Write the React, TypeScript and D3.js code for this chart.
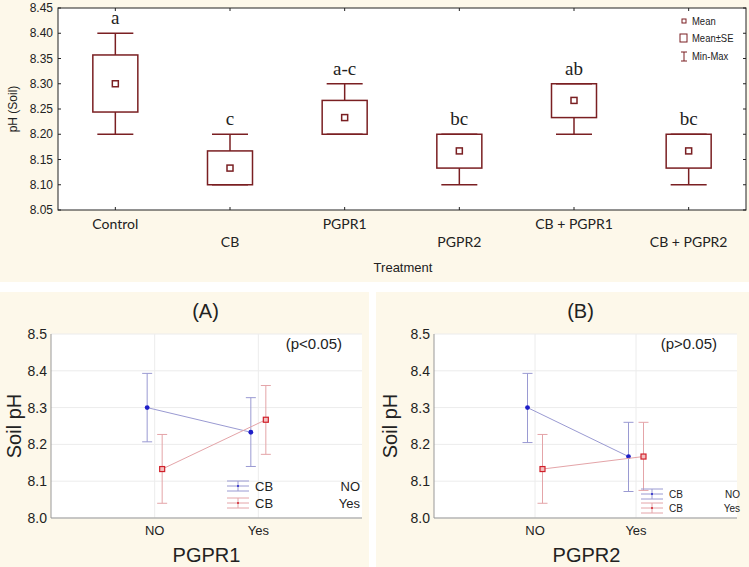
import React from "react";
import * as d3 from "d3";

// ---- Top chart data ----
const treatments = ["Control", "CB", "PGPR1", "PGPR2", "CB + PGPR1", "CB + PGPR2"];
const means = [8.3, 8.133, 8.233, 8.167, 8.267, 8.167];
const seLow = [8.244, 8.1, 8.2, 8.133, 8.233, 8.133];
const seHigh = [8.357, 8.167, 8.267, 8.2, 8.3, 8.2];
const mins = [8.2, 8.1, 8.2, 8.1, 8.2, 8.1];
const maxs = [8.4, 8.2, 8.3, 8.2, 8.3, 8.2];
const letters = ["a", "c", "a-c", "bc", "ab", "bc"];
const topTicks = [8.05, 8.1, 8.15, 8.2, 8.25, 8.3, 8.35, 8.4, 8.45];

// ---- Interaction plots data ----
const levels = ["NO", "Yes"];
const bottomTicks = [8.0, 8.1, 8.2, 8.3, 8.4, 8.5];
const aNoMean = [8.3, 8.233];
const aNoLo = [8.207, 8.14];
const aNoHi = [8.393, 8.327];
const aYesMean = [8.133, 8.267];
const aYesLo = [8.04, 8.173];
const aYesHi = [8.227, 8.36];
const bNoMean = [8.3, 8.167];
const bNoLo = [8.205, 8.072];
const bNoHi = [8.393, 8.26];
const bYesMean = [8.133, 8.167];
const bYesLo = [8.04, 8.075];
const bYesHi = [8.227, 8.26];

const BOX = "#7a1f22";
const CREAM = "#fdf8ea";
const SANS = "'Liberation Sans', Arial, sans-serif";
const HUMAN = "Lato, 'Open Sans', sans-serif";
const SERIF = "'Liberation Serif', 'Times New Roman', serif";

function Narrow({ x, y, anchor, size, children }: { x: number; y: number; anchor?: string; size: number; children: React.ReactNode }) {
  return (
    <g transform={`translate(${x},${y}) scale(0.86,1)`}>
      <text x={0} y={0} textAnchor={anchor || "start"} fontFamily={SANS} fontSize={size} fill="#222">
        {children}
      </text>
    </g>
  );
}

function TopChart() {
  const L = 58, R = 746, T = 8, B = 210;
  const x = d3.scaleBand<string>().domain(treatments).range([L, R]);
  const y = d3.scaleLinear().domain([8.05, 8.45]).range([B, T]);
  const bw = 45, cw = 36, mk = 6;
  return (
    <g>
      <rect x={0} y={0} width={749} height={282} fill={CREAM} />
      <rect x={L} y={T} width={R - L} height={B - T} fill="#ffffff" stroke="#222" strokeWidth={1} />
      {topTicks.map((t) => (
        <g key={t}>
          <line x1={L} x2={L + 3} y1={y(t)} y2={y(t)} stroke="#222" />
          <line x1={R - 3} x2={R} y1={y(t)} y2={y(t)} stroke="#222" />
          <text x={L - 5} y={y(t) + 4} textAnchor="end" fontFamily={SANS} fontSize={12} fill="#222">
            {t.toFixed(2)}
          </text>
        </g>
      ))}
      {treatments.map((c, i) => {
        const cx = (x(c) as number) + x.bandwidth() / 2;
        return (
          <g key={c}>
            <line x1={cx} x2={cx} y1={B} y2={B - 3} stroke="#222" />
            <line x1={cx} x2={cx} y1={T} y2={T + 3} stroke="#222" />
            <text x={cx} y={i % 2 === 0 ? 229 : 247} textAnchor="middle" fontFamily={HUMAN} fontSize={14} fill="#222">
              {c}
            </text>
            <line x1={cx} x2={cx} y1={y(maxs[i])} y2={y(seHigh[i])} stroke={BOX} strokeWidth={1.5} />
            <line x1={cx} x2={cx} y1={y(seLow[i])} y2={y(mins[i])} stroke={BOX} strokeWidth={1.5} />
            <line x1={cx - cw / 2} x2={cx + cw / 2} y1={y(maxs[i])} y2={y(maxs[i])} stroke={BOX} strokeWidth={1.5} />
            <line x1={cx - cw / 2} x2={cx + cw / 2} y1={y(mins[i])} y2={y(mins[i])} stroke={BOX} strokeWidth={1.5} />
            <rect x={cx - bw / 2} y={y(seHigh[i])} width={bw} height={y(seLow[i]) - y(seHigh[i])} fill="none" stroke={BOX} strokeWidth={1.5} />
            <rect x={cx - mk / 2} y={y(means[i]) - mk / 2} width={mk} height={mk} fill="#fff" stroke={BOX} strokeWidth={1.5} />
            <text x={cx} y={y(maxs[i]) - 9} textAnchor="middle" fontFamily={SERIF} fontSize={19} fill="#222">
              {letters[i]}
            </text>
          </g>
        );
      })}
      <text transform={`translate(17,${(T + B) / 2}) rotate(-90)`} textAnchor="middle" fontFamily={SANS} fontSize={12} fill="#222">
        pH (Soil)
      </text>
      <text x={403} y={272} textAnchor="middle" fontFamily={SANS} fontSize={13} fill="#222">
        Treatment
      </text>
      {/* legend */}
      <rect x={682} y={19} width={4} height={4} fill="#fff" stroke={BOX} strokeWidth={1} />
      <Narrow x={692} y={25} size={11}>Mean</Narrow>
      <rect x={680} y={34} width={7} height={8} fill="#fff" stroke={BOX} strokeWidth={1} />
      <Narrow x={692} y={42} size={11}>Mean±SE</Narrow>
      <line x1={681} x2={687} y1={52} y2={52} stroke={BOX} />
      <line x1={681} x2={687} y1={61} y2={61} stroke={BOX} />
      <line x1={684} x2={684} y1={52} y2={61} stroke={BOX} />
      <Narrow x={692} y={60} size={11}>Min-Max</Narrow>
    </g>
  );
}

type PanelProps = {
  ox: number;
  pw: number;
  L: number;
  R: number;
  title: string;
  titleDx: number;
  pText: string;
  xTitle: string;
  xTitleDx: number;
  noMean: number[];
  noLo: number[];
  noHi: number[];
  yesMean: number[];
  yesLo: number[];
  yesHi: number[];
  legendX: number;
  legendY: number;
  legendRight: number;
  legendFont: number;
  legendGap: number;
};

function Panel(p: PanelProps) {
  const T = 334, B = 518;
  const x = d3.scaleLinear().domain([0, 3]).range([p.L, p.R]);
  const y = d3.scaleLinear().domain([8.0, 8.5]).range([B, T]);
  const off = 7.5;
  const blueLine = "#9a9ad2";
  const redLine = "#e4a4a8";
  const series = [
    { mean: p.noMean, lo: p.noLo, hi: p.noHi, dx: -off, line: blueLine, pt: "#1f1fc8", sq: false },
    { mean: p.yesMean, lo: p.yesLo, hi: p.yesHi, dx: off, line: redLine, pt: "#d0202a", sq: true },
  ];
  const cx = (i: number) => x(i + 1);
  const cap = 5;
  return (
    <g>
      <rect x={p.ox} y={292} width={p.pw} height={275} fill={CREAM} />
      <rect x={p.L} y={T} width={p.R - p.L} height={B - T} fill="#ffffff" />
      {bottomTicks.map((t) => (
        <g key={t}>
          <line x1={p.L} x2={p.R} y1={y(t)} y2={y(t)} stroke="#ececec" />
          <text x={p.L - 4} y={y(t) + 5} textAnchor="end" fontFamily={SANS} fontSize={14} fill="#222">
            {t.toFixed(1)}
          </text>
        </g>
      ))}
      {levels.map((lv, i) => (
        <g key={lv}>
          <line x1={cx(i)} x2={cx(i)} y1={T} y2={B} stroke="#ececec" />
          <text x={cx(i)} y={535} textAnchor="middle" fontFamily={SANS} fontSize={13} fill="#222">
            {lv}
          </text>
        </g>
      ))}
      <line x1={p.L} x2={p.L} y1={T} y2={B} stroke="#999" />
      <line x1={p.L} x2={p.R} y1={B} y2={B} stroke="#999" />
      {series.map((s, k) => {
        const line = d3
          .line<number>()
          .x((_, i) => cx(i) + s.dx)
          .y((v) => y(v));
        return (
          <g key={k}>
            <path d={line(s.mean) || ""} fill="none" stroke={s.line} strokeWidth={1} />
            {s.mean.map((m, i) => {
              const px = cx(i) + s.dx;
              return (
                <g key={i}>
                  <line x1={px} x2={px} y1={y(s.hi[i])} y2={y(s.lo[i])} stroke={s.line} strokeWidth={1} />
                  <line x1={px - cap} x2={px + cap} y1={y(s.hi[i])} y2={y(s.hi[i])} stroke={s.line} strokeWidth={1} />
                  <line x1={px - cap} x2={px + cap} y1={y(s.lo[i])} y2={y(s.lo[i])} stroke={s.line} strokeWidth={1} />
                  {s.sq ? (
                    <rect x={px - 2.5} y={y(m) - 2.5} width={5} height={5} fill="#f4c0c0" stroke={s.pt} strokeWidth={1.2} />
                  ) : (
                    <circle cx={px} cy={y(m)} r={2.4} fill={s.pt} />
                  )}
                </g>
              );
            })}
          </g>
        );
      })}
      <text x={(p.L + p.R) / 2 + p.titleDx} y={318} textAnchor="middle" fontFamily={SANS} fontSize={20} fill="#222">
        {p.title}
      </text>
      <text x={p.R - 20} y={349} textAnchor="end" fontFamily={SANS} fontSize={15} fill="#222">
        {p.pText}
      </text>
      <text transform={`translate(${p.ox + 21},${(T + B) / 2}) rotate(-90)`} textAnchor="middle" fontFamily={SANS} fontSize={20} fill="#222">
        Soil pH
      </text>
      <text x={(p.L + p.R) / 2 + p.xTitleDx} y={562} textAnchor="middle" fontFamily={SANS} fontSize={20} fill="#222">
        {p.xTitle}
      </text>
      {/* legend */}
      {[
        { c: blueLine, pt: "#1f1fc8", lbl: "NO" },
        { c: redLine, pt: "#d0202a", lbl: "Yes" },
      ].map((e, k) => {
        const ly = p.legendY + k * p.legendGap;
        const x0 = p.legendX, x1 = p.legendX + 22, xm = p.legendX + 11;
        return (
          <g key={k}>
            <line x1={x0} x2={x1} y1={ly - 5} y2={ly - 5} stroke={e.c} />
            <line x1={x0} x2={x1} y1={ly} y2={ly} stroke={e.c} />
            <line x1={x0} x2={x1} y1={ly + 5} y2={ly + 5} stroke={e.c} />
            <line x1={xm} x2={xm} y1={ly - 5} y2={ly + 5} stroke={e.c} />
            <circle cx={xm} cy={ly} r={1} fill={e.pt} />
            <text x={x1 + 6} y={ly + p.legendFont * 0.36} fontFamily={SANS} fontSize={p.legendFont} fill="#222">
              CB
            </text>
            <text x={p.legendRight} y={ly + p.legendFont * 0.36} textAnchor="end" fontFamily={SANS} fontSize={p.legendFont} fill="#222">
              {e.lbl}
            </text>
          </g>
        );
      })}
    </g>
  );
}

export default function App() {
  return (
    <svg
      width={749}
      height={567}
      style={{ position: "absolute", left: 0, top: 0, background: "#ffffff" }}
    >
      <TopChart />
      <Panel
        ox={0}
        pw={369}
        L={51}
        R={362}
        title="(A)"
        titleDx={-1}
        pText="(p<0.05)"
        xTitle="PGPR1"
        xTitleDx={0}
        noMean={aNoMean}
        noLo={aNoLo}
        noHi={aNoHi}
        yesMean={aYesMean}
        yesLo={aYesLo}
        yesHi={aYesHi}
        legendX={227}
        legendY={486}
        legendRight={360}
        legendFont={13}
        legendGap={17}
      />
      <Panel
        ox={376}
        pw={373}
        L={434}
        R={737}
        title="(B)"
        titleDx={-5}
        pText="(p>0.05)"
        xTitle="PGPR2"
        xTitleDx={1}
        noMean={bNoMean}
        noLo={bNoLo}
        noHi={bNoHi}
        yesMean={bYesMean}
        yesLo={bYesLo}
        yesHi={bYesHi}
        legendX={641}
        legendY={494}
        legendRight={740}
        legendFont={10}
        legendGap={14}
      />
    </svg>
  );
}
